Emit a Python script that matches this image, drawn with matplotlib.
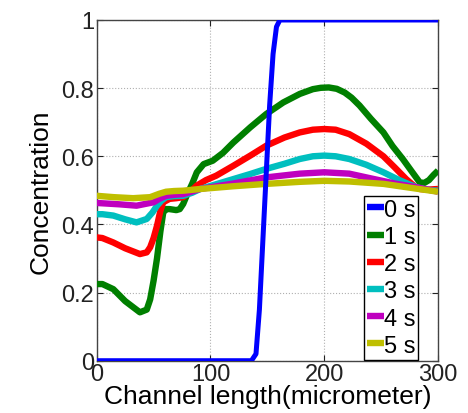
import numpy as np
import matplotlib.pyplot as plt

plt.rcParams['font.family'] = ['Liberation Sans', 'DejaVu Sans']

# concentration profiles along the channel at successive times
x_0s = [0, 136, 140, 143, 146, 149, 152, 155, 158, 161, 300]
c_0s = [0, 0, 0.02, 0.15, 0.35, 0.55, 0.75, 0.9, 0.98, 1.0, 1.0]

x_1s = [0, 5, 14.6, 25, 38, 44, 47, 50, 53, 56, 58.5, 61, 64, 70, 73, 76, 79, 84, 88, 94,
        102, 111, 120, 135, 149, 164, 178.5, 190, 197, 204, 211, 218, 224, 231, 241, 252, 260,
        269, 277, 284, 288, 292, 296, 300]
c_1s = [0.225, 0.225, 0.21, 0.175, 0.142, 0.15, 0.18, 0.235, 0.3, 0.38, 0.435, 0.445, 0.445,
        0.442, 0.445, 0.46, 0.484, 0.52, 0.553, 0.577, 0.587, 0.61, 0.64, 0.685, 0.724, 0.758,
        0.783, 0.797, 0.801, 0.802, 0.798, 0.787, 0.772, 0.749, 0.71, 0.67, 0.63, 0.592, 0.555,
        0.523, 0.522, 0.53, 0.545, 0.558]

x_2s = [0, 5, 14.6, 25, 38, 44, 47, 50, 53, 56, 58.5, 64, 70, 76, 82, 88, 96, 105, 120, 135,
        149, 165, 178.5, 190, 200, 210, 222, 237, 252, 262, 272, 280, 284, 290, 300]
c_2s = [0.362, 0.36, 0.347, 0.33, 0.313, 0.318, 0.333, 0.36, 0.396, 0.44, 0.465, 0.475, 0.477,
        0.48, 0.495, 0.514, 0.53, 0.543, 0.572, 0.602, 0.631, 0.655, 0.67, 0.678, 0.68, 0.678,
        0.665, 0.637, 0.6, 0.567, 0.533, 0.51, 0.504, 0.502, 0.504]

x_3s = [0, 5, 14.6, 25, 35, 44, 49, 53, 57, 61, 68, 76, 84, 91, 105, 120, 135, 149, 165,
        178.5, 190, 200, 210, 222, 237, 252, 266, 281, 290, 300]
c_3s = [0.43, 0.43, 0.426, 0.415, 0.406, 0.416, 0.435, 0.455, 0.47, 0.48, 0.483, 0.484, 0.493,
        0.504, 0.518, 0.533, 0.548, 0.563, 0.578, 0.592, 0.6, 0.602, 0.6, 0.592, 0.575, 0.553,
        0.53, 0.509, 0.502, 0.499]

x_4s = [0, 10, 20, 35, 50, 55, 61, 68, 76, 91, 120, 149, 178.5, 200, 222, 237, 262, 281, 300]
c_4s = [0.463, 0.461, 0.459, 0.455, 0.465, 0.475, 0.484, 0.487, 0.489, 0.504, 0.52, 0.538,
        0.549, 0.553, 0.549, 0.538, 0.52, 0.509, 0.496]

x_5s = [0, 15, 32, 47, 55, 61, 68, 76, 91, 120, 149, 178.5, 200, 222, 252, 281, 300]
c_5s = [0.484, 0.48, 0.477, 0.48, 0.49, 0.496, 0.498, 0.499, 0.504, 0.512, 0.519, 0.525,
        0.528, 0.526, 0.519, 0.505, 0.496]

labels = ["0 s", "1 s", "2 s", "3 s", "4 s", "5 s"]
colors = ["#0000ff", "#007f00", "#ff0000", "#00bfbf", "#bf00bf", "#bfbf00"]

fig = plt.figure(figsize=(4.68, 4.14), dpi=100)
ax = fig.add_axes([0.2066, 0.1263, 0.7294, 0.823])

series = [(x_0s, c_0s), (x_1s, c_1s), (x_2s, c_2s), (x_3s, c_3s), (x_4s, c_4s), (x_5s, c_5s)]
for i, (xs, cs) in enumerate(series):
    lw = 3.6 if i == 0 else 4.6
    z = 10 if i == 0 else 2 + i
    ax.plot(xs, cs, color=colors[i], lw=lw, label=labels[i], zorder=z,
            solid_capstyle='butt', solid_joinstyle='round')

ax.set_xlim(0, 300)
ax.set_ylim(0, 1)
ax.set_xticks([0, 100, 200, 300])
ax.set_yticks([0, 0.2, 0.4, 0.6, 0.8, 1])
ax.set_yticklabels(["0", "0.2", "0.4", "0.6", "0.8", "1"])
ax.tick_params(direction='in', top=True, right=True, length=4, width=0.8,
               labelsize=17, pad=2, colors='#222222')
ax.grid(True, linestyle=':', color='#b0b0b0', linewidth=0.8)
for s in ax.spines.values():
    s.set_color('#444444')
    s.set_linewidth(1.0)

ax.set_xlabel("Channel length(micrometer)", fontsize=19, labelpad=-1)
ax.set_ylabel("Concentration", fontsize=19, labelpad=6)

leg = ax.legend(loc='lower right', bbox_to_anchor=(0.945, 0.0), fontsize=17,
                handlelength=0.7, handletextpad=0.0, borderpad=0.12, labelspacing=0.22,
                borderaxespad=0.05, fancybox=False, framealpha=1, edgecolor='black')
leg.get_frame().set_linewidth(1.0)
for h in leg.get_lines():
    h.set_linewidth(4.6)

plt.savefig("out.png", dpi=100)
